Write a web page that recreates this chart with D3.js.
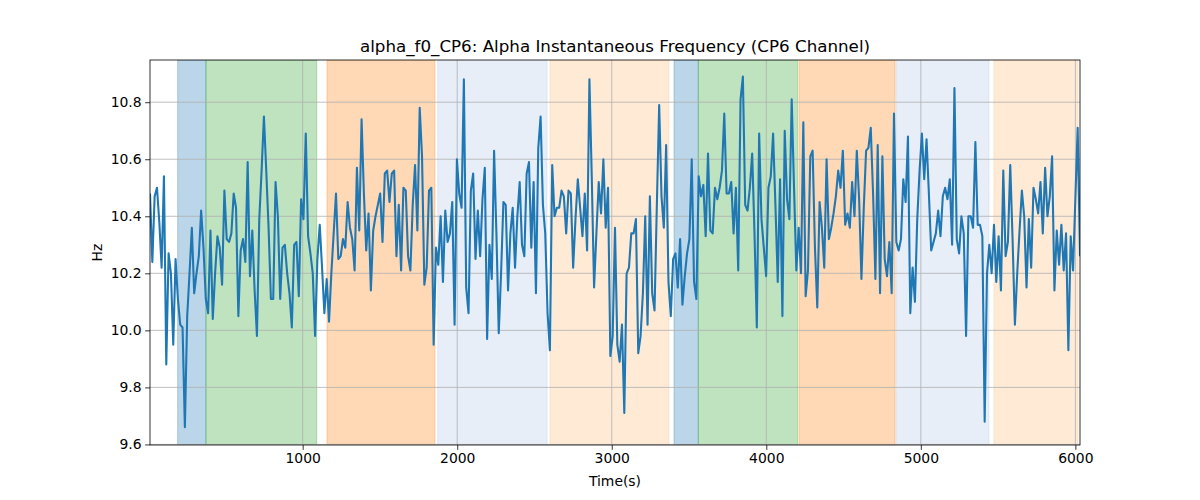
<!DOCTYPE html>
<html>
<head>
<meta charset="utf-8">
<script src="https://cdn.jsdelivr.net/npm/d3@7"></script>
<style>
  html, body { margin: 0; padding: 0; background: #fff; }
  svg { display: block; font-family: "DejaVu Sans", sans-serif; }
</style>
</head>
<body>
<svg id="chart" width="1200" height="500"></svg>
<script>
// ---- data ----
const titleText = "alpha_f0_CP6: Alpha Instantaneous Frequency (CP6 Channel)";
const xLabelText = "Time(s)";
const yLabelText = "Hz";

const timeStart = 12;     // first sample time (s)
const timeEnd = 6030;     // last sample time (s)

const freqHz = [
  10.48, 10.24, 10.47, 10.50, 10.38, 10.22, 10.54, 9.88, 10.27, 10.20, 9.95, 10.25, 10.11, 10.02, 10.01, 9.66, 10.05, 10.20, 10.36, 10.13, 10.20, 10.26, 10.42, 10.29, 10.11, 10.06, 10.35, 10.04, 10.20, 10.33, 10.29, 10.16, 10.49, 10.32, 10.31, 10.34, 10.48, 10.43,
  10.05, 10.28, 10.32, 10.24, 10.59, 10.19, 10.35, 10.14, 9.98, 10.39, 10.56, 10.75, 10.56, 10.36, 10.11, 10.11, 10.52, 10.40, 10.11, 10.29, 10.30, 10.20, 10.13, 10.01, 10.30, 10.31, 10.12, 10.46, 10.39, 10.69, 10.33, 10.27, 10.20, 9.98, 10.25, 10.37, 10.22, 10.06, 10.18,
  10.03, 10.20, 10.34, 10.48, 10.25, 10.26, 10.32, 10.29, 10.45, 10.36, 10.32, 10.21, 10.57, 10.35, 10.74, 10.48, 10.28, 10.41, 10.14, 10.35, 10.40, 10.44, 10.48, 10.31, 10.55, 10.56, 10.45, 10.55, 10.56, 10.26, 10.44, 10.21, 10.50, 10.49, 10.26, 10.21, 10.44, 10.58, 10.35,
  10.78, 10.61, 10.16, 10.22, 10.49, 10.50, 9.95, 10.29, 10.23, 10.40, 10.17, 10.42, 10.31, 10.34, 10.45, 10.02, 10.60, 10.48, 10.43, 10.88, 10.15, 10.06, 10.49, 10.55, 10.25, 10.42, 10.26, 10.46, 10.57, 9.97, 10.30, 10.18, 10.63, 10.34, 9.99, 10.20, 10.45, 10.44, 10.14,
  10.34, 10.43, 10.22, 10.40, 10.52, 10.30, 10.26, 10.55, 10.59, 10.29, 10.52, 10.13, 10.64, 10.75, 10.44, 10.34, 10.06, 9.93, 10.58, 10.40, 10.43, 10.43, 10.49, 10.47, 10.34, 10.49, 10.48, 10.22, 10.39, 10.53, 10.43, 10.33, 10.48, 10.28, 10.88, 10.54, 10.15, 10.34, 10.52,
  10.41, 10.60, 10.36, 10.50, 9.91, 9.98, 10.36, 9.95, 9.89, 10.02, 9.71, 10.20, 10.22, 10.34, 10.34, 10.39, 9.92, 9.98, 10.13, 10.40, 10.02, 10.47, 10.13, 10.07, 10.44, 10.79, 10.47, 10.36, 10.65, 10.17, 10.05, 10.25, 10.27, 10.15, 10.32, 10.09, 10.19, 10.27,
  10.32, 10.60, 10.17, 10.11, 10.54, 10.47, 10.51, 10.33, 10.62, 10.35, 10.34, 10.50, 10.46, 10.50, 10.56, 10.76, 10.48, 10.48, 10.52, 10.34, 10.50, 10.21, 10.81, 10.89, 10.44, 10.42, 10.50, 10.62, 10.34, 10.01, 10.69, 10.39, 10.29, 10.19, 10.50, 10.54, 10.69, 10.44, 10.17,
  10.53, 10.05, 10.70, 10.46, 10.39, 10.81, 10.50, 10.21, 10.36, 10.20, 10.73, 10.12, 10.21, 10.61, 10.63, 10.29, 10.08, 10.45, 10.36, 10.22, 10.60, 10.32, 10.36, 10.41, 10.47, 10.56, 10.50, 10.63, 10.37, 10.41, 10.36, 10.52, 10.40, 10.63, 10.46, 10.18, 10.43, 10.63, 10.64,
  10.71, 10.48, 10.18, 10.65, 10.13, 10.61, 10.25, 10.19, 10.31, 10.13, 10.76, 10.31, 10.28, 10.32, 10.53, 10.45, 10.68, 10.06, 10.22, 10.10, 10.39, 10.56, 10.69, 10.53, 10.67, 10.48, 10.28, 10.31, 10.34, 10.42, 10.33, 10.47, 10.50, 10.46, 10.53, 10.30, 10.85, 10.32, 10.27,
  10.40, 10.34, 9.98, 10.40, 10.40, 10.36, 10.66, 10.37, 10.37, 10.33, 9.68, 10.20, 10.30, 10.20, 10.37, 10.17, 10.33, 10.14, 10.56, 10.26, 10.31, 10.58, 10.32, 10.02, 10.20, 10.35, 10.49, 10.40, 10.15, 10.39, 10.22, 10.50, 10.46, 10.41, 10.52, 10.34, 10.57, 10.40, 10.47, 10.61, 10.14, 10.35, 10.23, 10.37, 10.21, 10.34, 9.93, 10.33, 10.21, 10.46, 10.71, 10.26
];

// shaded stage intervals (seconds) and their stage kind
const spanStart = [191, 374, 1157, 1874, 2600, 3403, 3560, 4212, 4839, 5473];
const spanEnd   = [374, 1091, 1856, 2581, 3370, 3560, 4203, 4833, 5441, 6017];
const spanKind  = ["blue", "green", "orange", "lightblue", "peach", "blue", "green", "orange", "lightblue", "peach"];

const xTickValues = [1000, 2000, 3000, 4000, 5000, 6000];
const yTickValues = [9.6, 9.8, 10.0, 10.2, 10.4, 10.6, 10.8];
const yDomain = [9.598, 10.948];

// ---- styles ----
const kindColor = {
  blue: "#1f77b4", green: "#2ca02c", orange: "#ff7f0e",
  lightblue: "#aec7e8", peach: "#ffbb78"
};

// ---- layout ----
const margin = { left: 150, right: 120, top: 60, bottom: 55 };
const W = 1200, H = 500;
const pw = W - margin.left - margin.right;
const ph = H - margin.top - margin.bottom;

const svg = d3.select("#chart");
const g = svg.append("g").attr("transform", `translate(${margin.left},${margin.top})`);

const n = freqHz.length;
const step = (timeEnd - timeStart) / (n - 1);
const series = freqHz.map((v, i) => ({ t: timeStart + i * step, v }));

const x = d3.scaleLinear().domain([timeStart, timeEnd]).range([0, pw]);
const y = d3.scaleLinear().domain(yDomain).range([ph, 0]);

const clip = svg.append("clipPath").attr("id", "clip")
  .append("rect").attr("width", pw).attr("height", ph);

// spans
const spans = spanStart.map((s, i) => ({ s, e: spanEnd[i], k: spanKind[i] }));
g.append("g").attr("clip-path", "url(#clip)")
  .selectAll("rect").data(spans).enter().append("rect")
  .attr("x", d => x(d.s))
  .attr("width", d => x(d.e) - x(d.s))
  .attr("y", 0).attr("height", ph)
  .attr("fill", d => kindColor[d.k]).attr("fill-opacity", 0.3)
  .attr("stroke", d => kindColor[d.k]).attr("stroke-opacity", 0.3).attr("stroke-width", 1);

// grid
const grid = g.append("g");
grid.selectAll(".gx").data(xTickValues).enter().append("line")
  .attr("x1", d => x(d)).attr("x2", d => x(d)).attr("y1", 0).attr("y2", ph)
  .attr("stroke", "#b0b0b0").attr("stroke-width", 0.8);
grid.selectAll(".gy").data(yTickValues).enter().append("line")
  .attr("y1", d => y(d)).attr("y2", d => y(d)).attr("x1", 0).attr("x2", pw)
  .attr("stroke", "#b0b0b0").attr("stroke-width", 0.8);

// line
const line = d3.line().x(d => x(d.t)).y(d => y(d.v));
g.append("path").datum(series)
  .attr("clip-path", "url(#clip)")
  .attr("d", line)
  .attr("fill", "none").attr("stroke", "#1f77b4")
  .attr("stroke-width", 2.08).attr("stroke-linejoin", "round").attr("stroke-linecap", "butt");

// axes
const xAxis = d3.axisBottom(x).tickValues(xTickValues).tickFormat(d3.format("d"))
  .tickSize(4.9).tickPadding(3.5);
const yAxis = d3.axisLeft(y).tickValues(yTickValues).tickFormat(d3.format(".1f"))
  .tickSize(4.9).tickPadding(3.5);

const gx = g.append("g").attr("transform", `translate(0,${ph})`).call(xAxis);
const gy = g.append("g").call(yAxis);
[gx, gy].forEach(a => {
  a.select(".domain").remove();
  a.selectAll(".tick line").attr("stroke", "#000").attr("stroke-width", 0.8);
  a.selectAll(".tick text").attr("fill", "#000")
    .style("font-family", "'DejaVu Sans', sans-serif").style("font-size", "13.9px");
});

// spines
g.append("rect").attr("x", 0).attr("y", 0).attr("width", pw).attr("height", ph)
  .attr("fill", "none").attr("stroke", "#000").attr("stroke-width", 0.8);

// labels
svg.append("text").attr("x", margin.left + pw / 2).attr("y", 52)
  .attr("text-anchor", "middle").style("font-size", "16.7px").attr("fill", "#000")
  .text(titleText);
svg.append("text").attr("x", margin.left + pw / 2).attr("y", 486)
  .attr("text-anchor", "middle").style("font-size", "13.9px").attr("fill", "#000")
  .text(xLabelText);
svg.append("text").attr("transform", `translate(102,${margin.top + ph / 2}) rotate(-90)`)
  .attr("text-anchor", "middle").style("font-size", "13.9px").attr("fill", "#000")
  .text(yLabelText);
</script>
</body>
</html>
